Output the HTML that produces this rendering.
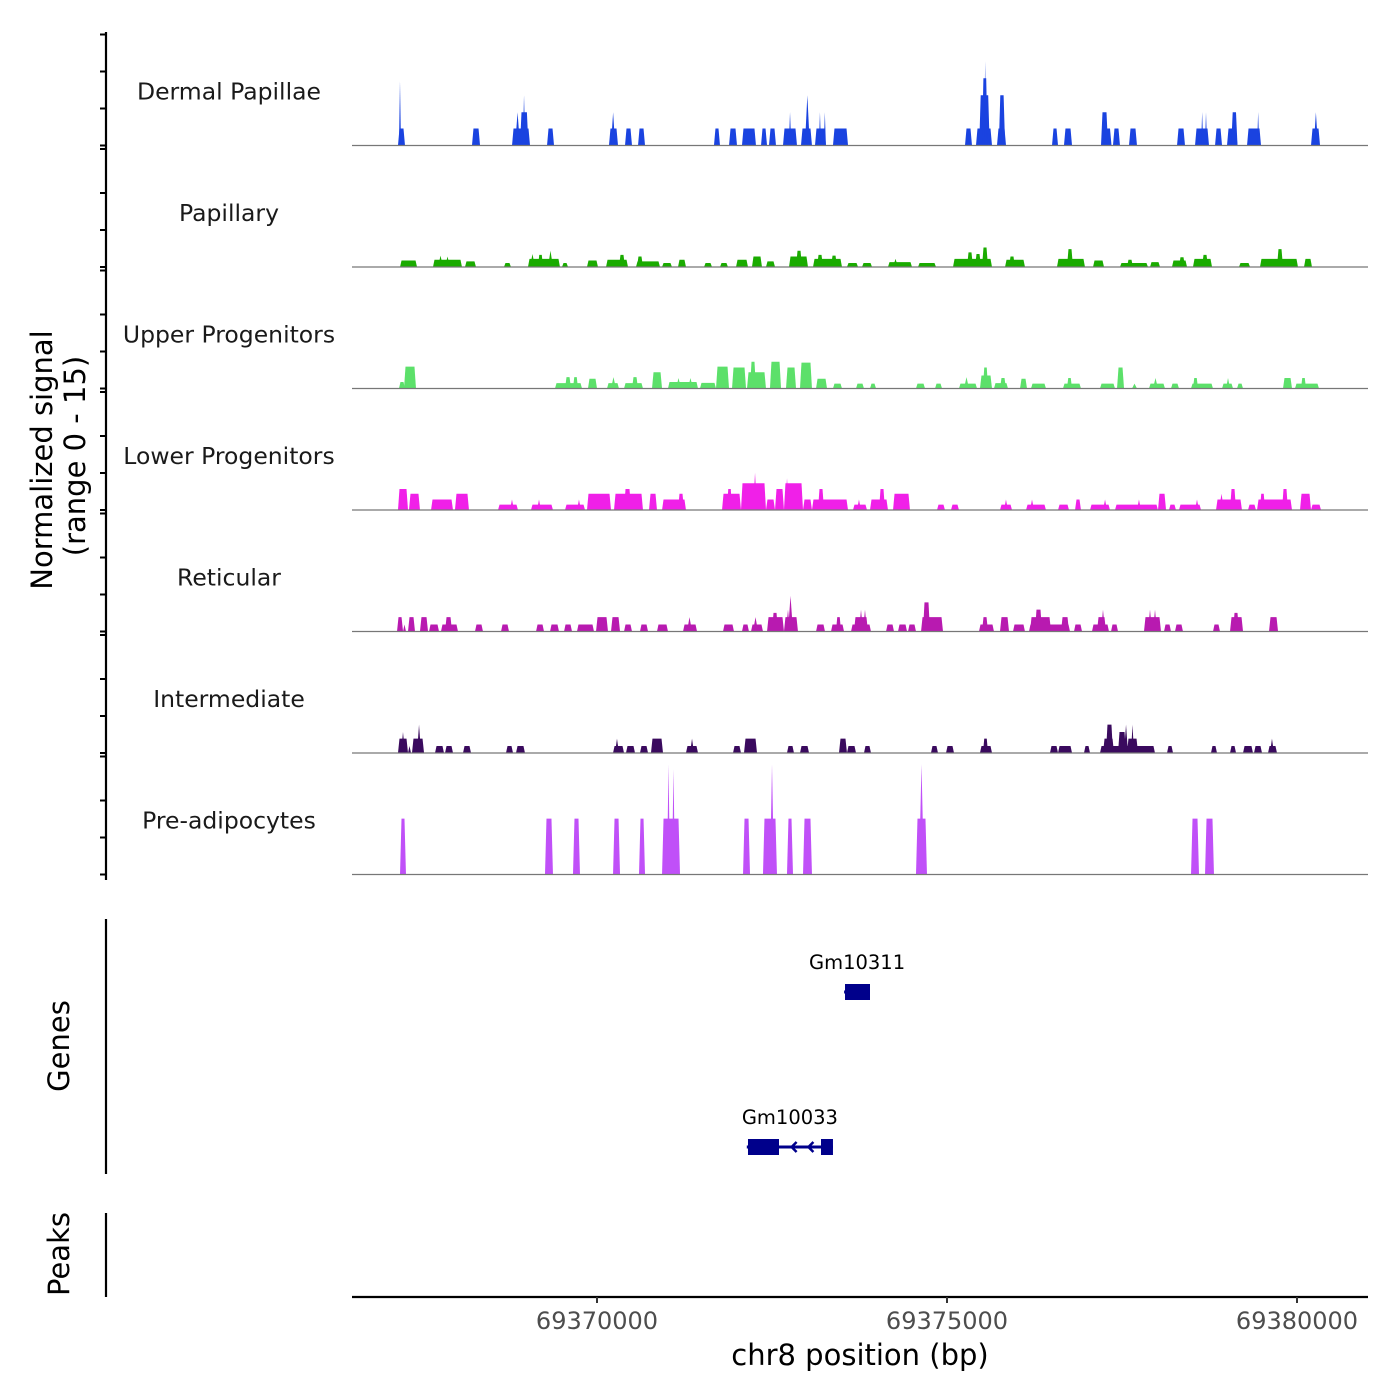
<!DOCTYPE html>
<html><head><meta charset="utf-8"><style>
html,body{margin:0;padding:0;background:#fff;}
svg{display:block;font-family:"DejaVu Sans","Liberation Sans",sans-serif;}
</style></head><body>
<svg id="chart" width="1400" height="1400" viewBox="0 0 1400 1400" xmlns="http://www.w3.org/2000/svg">
<g id="axes"></g>
<g id="tracks"></g>
<g id="genes"></g>
<text x="52" y="460" font-size="29" text-anchor="middle" transform="rotate(-90 52 460)" fill="#000">Normalized signal</text>
<text x="85" y="456" font-size="29" text-anchor="middle" transform="rotate(-90 85 456)" fill="#000">(range 0 - 15)</text>
<text x="69" y="1046" font-size="29" text-anchor="middle" transform="rotate(-90 69 1046)" fill="#000">Genes</text>
<text x="69" y="1254" font-size="29" text-anchor="middle" transform="rotate(-90 69 1254)" fill="#000">Peaks</text>
<text x="860" y="1365" font-size="29" text-anchor="middle" fill="#000">chr8 position (bp)</text>
</svg>
<script>
// ---- data ----
const xTicks = [69370000, 69375000, 69380000];
const trackNames = ["Dermal Papillae","Papillary","Upper Progenitors","Lower Progenitors","Reticular","Intermediate","Pre-adipocytes"];
const trackColors = ["#1a43e0","#1aab00","#5ce06a","#f020e8","#b81ab0","#3a0a5e","#c050f8"];
const dermalPapillae = [[69367157,69367257,2.1],[69367171,69367200,7.9],[69368214,69368329,2.1],[69368786,69369043,2.1],[69368830,69368900,4.1],[69368900,69369020,4.1],[69368940,69368975,6.2],[69369286,69369386,2.1],[69370171,69370300,2.1],[69370200,69370260,4.1],[69370400,69370500,2.1],[69370586,69370686,2.1],[69371671,69371757,2.1],[69371886,69372000,2.1],[69372071,69372271,2.1],[69372343,69372429,2.1],[69372457,69372557,2.1],[69372657,69372857,2.1],[69372740,69372775,4.1],[69372914,69373071,2.1],[69372970,69373040,6.2],[69373114,69373271,2.1],[69373170,69373200,4.1],[69373240,69373270,4.1],[69373371,69373586,2.1],[69375257,69375357,2.1],[69375414,69375643,2.1],[69375460,69375610,6.2],[69375500,69375580,8.3],[69375530,69375560,10.4],[69375714,69375843,2.1],[69375740,69375830,6.2],[69376500,69376586,2.1],[69376671,69376786,2.1],[69377200,69377300,4.1],[69377250,69377350,2.1],[69377371,69377471,2.1],[69377600,69377714,2.1],[69378286,69378400,2.1],[69378543,69378743,2.1],[69378630,69378660,4.1],[69378685,69378715,4.1],[69378829,69378929,2.1],[69379000,69379150,2.1],[69379060,69379150,4.1],[69379286,69379486,2.1],[69379430,69379460,4.1],[69380200,69380329,2.1],[69380240,69380300,4.1]];
const papillary = [[69367186,69367429,0.8],[69367657,69368071,0.9],[69367729,69367800,1.4],[69367829,69367900,1.3],[69368114,69368271,0.7],[69368671,69368771,0.5],[69369014,69369471,1.0],[69369043,69369114,1.6],[69369157,69369229,1.5],[69369300,69369371,2.0],[69369500,69369586,0.5],[69369857,69370014,0.8],[69370129,69370443,0.9],[69370314,69370400,1.5],[69370557,69370900,0.7],[69370571,69370657,1.3],[69370929,69371071,0.5],[69371157,69371271,0.9],[69371529,69371643,0.5],[69371757,69371871,0.5],[69371986,69372157,0.9],[69372214,69372357,1.3],[69372414,69372543,0.7],[69372743,69373014,1.3],[69372843,69372929,2.0],[69373086,69373500,1.0],[69373143,69373229,1.5],[69373343,69373429,1.4],[69373571,69373729,0.5],[69373786,69373929,0.5],[69374157,69374500,0.6],[69374229,69374300,1.0],[69374586,69374843,0.5],[69375086,69375643,1.0],[69375286,69375371,1.8],[69375400,69375486,1.6],[69375500,69375586,2.4],[69375829,69376114,0.9],[69375886,69375971,1.3],[69376571,69376971,1.0],[69376714,69376800,2.2],[69377086,69377243,0.8],[69377471,69377871,0.5],[69377571,69377657,0.9],[69377900,69378043,0.6],[69378214,69378429,0.8],[69378314,69378400,1.2],[69378514,69378786,1.0],[69378643,69378729,1.5],[69379171,69379329,0.5],[69379471,69380014,1.0],[69379714,69379800,2.2],[69380100,69380214,1.0]];
const upperProgenitors = [[69367171,69367257,0.8],[69367243,69367414,2.7],[69369400,69369786,0.66],[69369543,69369629,1.4],[69369657,69369729,1.4],[69369871,69370000,1.2],[69370143,69370314,0.66],[69370200,69370271,1.4],[69370386,69370657,0.66],[69370500,69370586,1.4],[69370786,69370929,2.0],[69371014,69371443,0.8],[69371129,69371200,1.3],[69371300,69371371,1.3],[69371471,69371700,0.7],[69371700,69371886,2.7],[69371929,69372129,2.6],[69372143,69372414,2.0],[69372186,69372271,3.3],[69372471,69372629,3.3],[69372700,69372843,2.6],[69372900,69373071,3.2],[69373129,69373286,1.2],[69373371,69373500,0.6],[69373700,69373814,0.6],[69373900,69373986,0.6],[69374557,69374686,0.6],[69374829,69374929,0.6],[69375171,69375429,0.6],[69375243,69375314,1.4],[69375471,69375643,1.6],[69375514,69375586,2.6],[69375671,69375871,0.66],[69375757,69375843,1.3],[69376043,69376143,1.2],[69376200,69376414,0.6],[69376657,69376914,0.6],[69376714,69376786,1.3],[69377186,69377400,0.6],[69377429,69377529,2.6],[69377643,69377714,0.6],[69377886,69378114,0.6],[69377943,69378014,1.3],[69378200,69378314,0.6],[69378486,69378800,0.6],[69378514,69378586,1.3],[69378929,69379086,0.6],[69378986,69379043,1.3],[69379143,69379229,0.6],[69379800,69379929,1.3],[69379971,69380314,0.6],[69380057,69380129,1.3]];
const lowerProgenitors = [[69367157,69367300,2.6],[69367314,69367471,2.0],[69367629,69367943,1.3],[69367971,69368171,2.0],[69368586,69368871,0.66],[69368757,69368814,1.3],[69369057,69369371,0.66],[69369143,69369200,1.3],[69369543,69369829,0.66],[69369714,69369771,1.3],[69369857,69370200,2.0],[69370243,69370657,2.0],[69370386,69370486,2.6],[69370743,69370857,2.0],[69370929,69371271,1.3],[69371157,69371243,2.0],[69371786,69372057,2.0],[69371857,69371929,2.6],[69372057,69372414,3.3],[69372229,69372286,4.6],[69372414,69372543,1.3],[69372543,69372671,2.6],[69372671,69372943,3.3],[69372686,69372743,3.9],[69372943,69373071,1.3],[69373071,69373586,1.3],[69373157,69373243,2.6],[69373657,69373857,0.66],[69373714,69373771,1.3],[69373900,69374157,1.3],[69374029,69374114,2.6],[69374229,69374471,2.0],[69374857,69374971,0.66],[69375057,69375171,0.66],[69375757,69375929,0.66],[69375814,69375871,1.3],[69376129,69376414,0.66],[69376186,69376243,1.3],[69376586,69376743,0.66],[69376829,69376914,1.3],[69377043,69377329,0.66],[69377229,69377286,1.3],[69377400,69378014,0.66],[69377714,69377771,1.3],[69378014,69378129,2.0],[69378171,69378271,0.66],[69378314,69378629,0.66],[69378543,69378600,1.3],[69378843,69379214,1.3],[69378886,69378957,2.0],[69379043,69379129,2.6],[69379300,69379414,0.66],[69379429,69379929,1.3],[69379471,69379543,2.0],[69379786,69379871,2.6],[69380043,69380200,2.0],[69380200,69380343,0.66]];
const reticular = [[69367143,69367229,1.77],[69367229,69367271,0.86],[69367300,69367400,1.77],[69367471,69367586,1.77],[69367600,69367743,0.86],[69367771,69368014,0.86],[69367829,69367929,1.77],[69368257,69368371,0.86],[69368629,69368743,0.86],[69369129,69369243,0.86],[69369329,69369457,0.86],[69369529,69369643,0.86],[69369714,69369957,0.86],[69369986,69370157,1.77],[69370200,69370329,1.77],[69370386,69370500,0.86],[69370614,69370729,0.86],[69370857,69371014,0.86],[69371229,69371429,0.86],[69371286,69371357,1.77],[69371800,69371957,0.86],[69372071,69372171,0.86],[69372200,69372371,0.86],[69372229,69372300,1.77],[69372429,69372671,1.77],[69372500,69372586,2.3],[69372671,69372871,1.77],[69372700,69372757,2.7],[69372729,69372800,4.4],[69373129,69373257,0.86],[69373343,69373529,0.86],[69373414,69373486,1.77],[69373629,69373914,0.86],[69373671,69373871,1.77],[69373743,69373800,2.7],[69373800,69373857,2.7],[69374129,69374243,0.86],[69374300,69374429,0.86],[69374443,69374557,0.86],[69374629,69374943,1.77],[69374657,69374757,3.6],[69375457,69375671,0.86],[69375500,69375586,1.77],[69375757,69375886,1.77],[69375943,69376114,0.86],[69376171,69376757,0.86],[69376186,69376486,1.77],[69376257,69376357,2.7],[69376629,69376743,1.77],[69376814,69376929,0.86],[69377071,69377314,0.86],[69377143,69377271,1.77],[69377200,69377257,2.7],[69377343,69377443,0.86],[69377814,69378057,1.77],[69377871,69377929,2.7],[69377943,69378000,2.7],[69378100,69378200,0.86],[69378257,69378371,0.86],[69378800,69378900,0.86],[69379043,69379229,1.77],[69379086,69379171,2.3],[69379600,69379729,1.77]];
const intermediate = [[69367157,69367300,1.77],[69367200,69367257,2.6],[69367300,69367343,0.86],[69367357,69367529,1.77],[69367429,69367486,3.5],[69367686,69367814,0.86],[69367829,69367943,0.86],[69368086,69368200,0.86],[69368700,69368800,0.86],[69368843,69368971,0.86],[69370229,69370386,0.86],[69370257,69370314,1.77],[69370414,69370543,0.86],[69370614,69370729,0.86],[69370771,69370943,1.77],[69371271,69371443,0.86],[69371329,69371386,1.77],[69371943,69372057,0.86],[69372100,69372286,1.77],[69372714,69372814,0.86],[69372900,69373029,0.86],[69373457,69373571,1.77],[69373571,69373700,0.86],[69373814,69373914,0.86],[69374771,69374871,0.86],[69374986,69375100,0.86],[69375471,69375643,0.86],[69375514,69375586,1.77],[69376471,69376586,0.86],[69376586,69376786,0.86],[69376957,69377043,0.86],[69377186,69377971,0.86],[69377229,69377386,1.77],[69377271,69377371,3.5],[69377443,69377557,2.6],[69377529,69377586,3.5],[69377571,69377729,1.77],[69377629,69377671,3.5],[69378143,69378229,0.86],[69378771,69378857,0.86],[69379043,69379129,0.86],[69379229,69379371,0.86],[69379386,69379500,0.86],[69379586,69379714,0.86],[69379614,69379671,1.77]];
const preAdipocytes = [[69367186,69367271,6.9],[69369257,69369371,6.9],[69369657,69369757,6.9],[69370229,69370329,6.9],[69370600,69370686,6.9],[69370929,69371186,6.9],[69371000,69371043,13.6],[69371071,69371114,13.0],[69372086,69372186,6.9],[69372371,69372571,6.9],[69372471,69372529,13.6],[69372714,69372800,6.9],[69372943,69373071,6.9],[69374557,69374714,6.9],[69374600,69374671,13.6],[69378486,69378600,6.9],[69378686,69378814,6.9]];
const geneNames = ["Gm10311","Gm10033"];
const geneExons = [[[69373543,69373900]],[[69372157,69372600],[69373200,69373371]]];
const geneSpans = [[69373530,69373900],[69372140,69373371]];

// ---- layout / scales ----
const trackData = [dermalPapillae,papillary,upperProgenitors,lowerProgenitors,reticular,intermediate,preAdipocytes];
const X0 = 352, X1 = 1368;
const xScale = bp => 597 + (bp - 69370000) * 0.07;
const TRACK_TOP = 25, TRACK_H = 121.5, PX_PER_UNIT = 8.1;
const baseline = i => TRACK_TOP + TRACK_H * (i + 1) - 1;
const yScale = (i, v) => baseline(i) - v * PX_PER_UNIT;
const NS = "http://www.w3.org/2000/svg";
function mk(tag, attrs, parent) {
  const e = document.createElementNS(NS, tag);
  for (const k in attrs) e.setAttribute(k, attrs[k]);
  parent.appendChild(e);
  return e;
}
const axes = document.getElementById('axes');
const tracksG = document.getElementById('tracks');
const genesG = document.getElementById('genes');

let ax = mk('line', {x1:106, x2:106, y1:32, y2:880, stroke:'#000', 'stroke-width':2.2}, axes);


let ga = mk('line', {x1:106, x2:106, y1:919, y2:1174, stroke:'#000', 'stroke-width':2.2}, axes);


let pa = mk('line', {x1:106, x2:106, y1:1213, y2:1297, stroke:'#000', 'stroke-width':2.2}, axes);



trackData.forEach((data, i) => {
  const b = baseline(i);
  const tickYs = [b, b - 37, b - 74, i === 0 ? b - 111 : b - 118];
  tickYs.forEach(ty => {
    const t = mk('line', {x1:100, x2:106, y1:ty, y2:ty, stroke:'#000', 'stroke-width':2}, axes);
    
    
  });
  const g = mk('g', {}, tracksG);
  
  
  const lbl = mk('text', {x:229, y:b - 46, 'font-size':23.5, 'text-anchor':'middle', fill:'#1a1a1a'}, g);
  lbl.textContent = trackNames[i];
  
  
  data.forEach(p => {
    const xa = xScale(p[0]), xb = xScale(p[1]);
    const w = xb - xa;
    const inset = w <= 5 ? w / 2 : Math.min(1.5, w / 4);
    const yt = yScale(i, p[2]);
    const poly = mk('polygon', {points: `${xa},${b} ${xa+inset},${yt} ${xb-inset},${yt} ${xb},${b}`, fill: trackColors[i]}, g);
    
    
  });
  const bl = mk('line', {x1:X0, x2:X1, y1:b, y2:b, stroke:'#777', 'stroke-width':1.2}, g);
  
  
});

const geneY = [992, 1147];
geneNames.forEach((name, gi) => {
  const g = mk('g', {}, genesG);
  
  
  const y = geneY[gi];
  const s0 = xScale(geneSpans[gi][0]), s1 = xScale(geneSpans[gi][1]);
  const ln = mk('line', {x1:s0, x2:s1, y1:y, y2:y, stroke:'#00008b', 'stroke-width':3}, g);
  
  
  geneExons[gi].forEach(ex => {
    const a = xScale(ex[0]), c = xScale(ex[1]);
    const r = mk('rect', {x:a, y:y - 8, width:c - a, height:16, fill:'#00008b'}, g);
    
    
  });
  for (let k = 1; k < geneExons[gi].length; k++) {
    const a = xScale(geneExons[gi][k-1][1]), c = xScale(geneExons[gi][k][0]);
    [0.3, 0.7].forEach(f => {
      const ax0 = a + (c - a) * f;
      const ar = mk('polyline', {points:`${ax0+5},${y-5} ${ax0},${y} ${ax0+5},${y+5}`, fill:'none', stroke:'#00008b', 'stroke-width':2.5}, g);
      
      
    });
  }
  const lx = (xScale(geneSpans[gi][0]) + xScale(geneSpans[gi][1])) / 2;
  const t = mk('text', {x:lx, y:y - 23, 'font-size':19.5, 'text-anchor':'middle', fill:'#000'}, g);
  t.textContent = name;
  
  
});

const xa = mk('line', {x1:X0, x2:X1, y1:1297, y2:1297, stroke:'#000', 'stroke-width':2.2}, axes);


xTicks.forEach(tv => {
  const x = xScale(tv);
  const t = mk('line', {x1:x, x2:x, y1:1297, y2:1303, stroke:'#333', 'stroke-width':2}, axes);
  
  
  const l = mk('text', {x:x, y:1329, 'font-size':24, 'text-anchor':'middle', fill:'#4d4d4d'}, axes);
  l.textContent = String(tv);
  
  
});
</script>
</body></html>
